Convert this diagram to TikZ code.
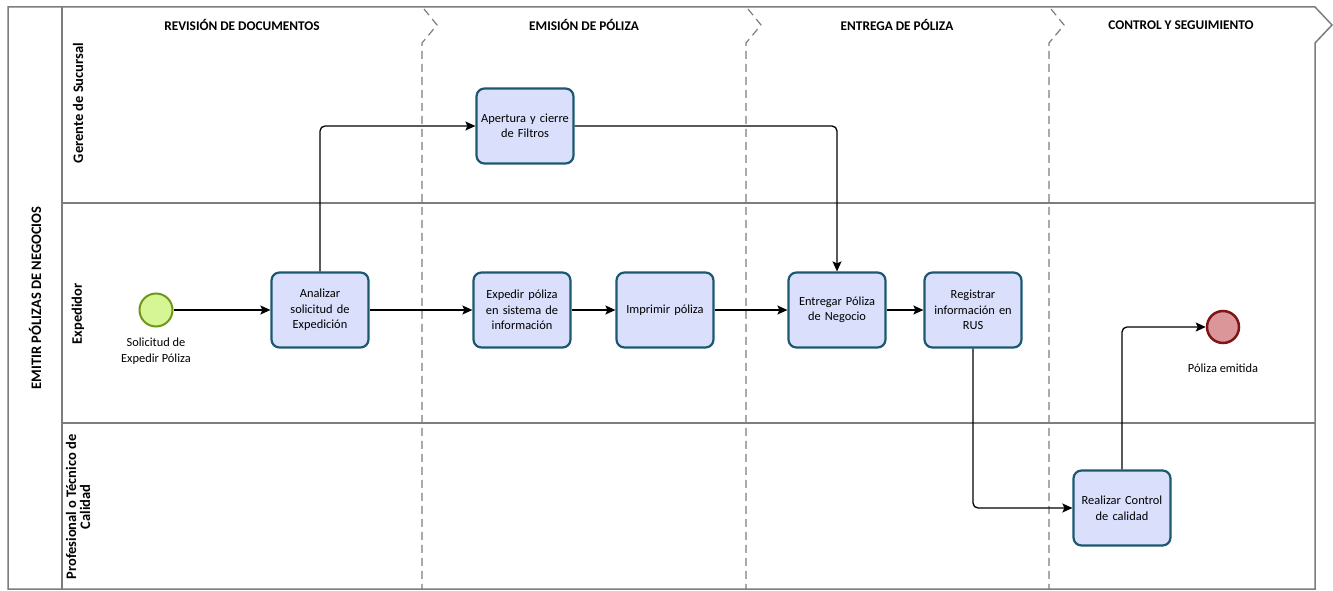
\documentclass[tikz,border=0pt]{standalone}
\usepackage{fontspec}
\setmainfont{Carlito}
\usepackage{tikz}
\usetikzlibrary{positioning,calc,arrows.meta}

\definecolor{taskfill}{RGB}{218,223,251}
\definecolor{taskline}{RGB}{28,88,112}
\definecolor{startfill}{RGB}{214,245,148}
\definecolor{startline}{RGB}{112,150,24}
\definecolor{endfill}{RGB}{219,150,154}
\definecolor{endline}{RGB}{128,20,24}
\definecolor{lanegray}{RGB}{125,125,125}

\begin{document}
\begin{tikzpicture}[x=1pt,y=-1pt,
		task/.style={rectangle, rounded corners=8pt, draw=taskline, fill=taskfill, line width=2.2pt, minimum width=97pt, minimum height=75pt, text width=90pt, align=center, inner sep=0pt, font=\fontsize{12.4}{15.5}\selectfont},
		flow/.style={-{Stealth[length=10pt,width=9pt,inset=2pt]}, line width=1.3pt, rounded corners=5pt},
		lbl/.style={align=center, font=\fontsize{12.4}{16}\selectfont},
		title/.style={font=\bfseries\fontsize{13.3}{15}\selectfont},
		lane/.style={rotate=90, align=center, font=\bfseries\fontsize{14.5}{14}\selectfont}]
		\useasboundingbox (0,0) rectangle (1333,591);
		
		% pool and lanes
		\draw[lanegray, line width=1.5pt] (8,7) -- (1315,7) -- (1332,25) -- (1315,43) -- (1315,589) -- (8,589) -- cycle;
		\draw[lanegray, line width=1.5pt] (62,7) -- (62,589);
		\draw[lanegray, line width=1.5pt] (62,203) -- (1315,203);
		\draw[lanegray, line width=1.5pt] (62,423) -- (1315,423);
		\foreach \x in {422,746,1049}
			\draw[lanegray, line width=1.2pt, dash pattern=on 8pt off 5pt] (\x+2,9) -- (\x+15,25) -- (\x,43) -- (\x,589);
		
		\node[lane] (pool) at (35,298) {EMITIR PÓLIZAS DE NEGOCIOS};
		\node[lane] (gerente) at (78,103) {Gerente de Sucursal};
		\node[lane] (expedidor) at (78,314) {Expedidor};
		\node[lane] (calidad) at (78,507) {Profesional o Técnico de\\Calidad};
		
		\node[title] (revision) at (242,25) {REVISIÓN DE DOCUMENTOS};
		\node[title] (emision) at (584,25) {EMISIÓN DE PÓLIZA};
		\node[title] (entrega) at (897,25) {ENTREGA DE PÓLIZA};
		\node[title] (seguimiento) at (1181,25) {CONTROL Y SEGUIMIENTO};
		
		% events
		\node[circle, draw=startline, fill=startfill, line width=2pt, minimum size=33pt, inner sep=0pt] (start) at (156,310) {};
		\node[lbl] (startlbl) at (156,351) {Solicitud de\\Expedir Póliza};
		\node[circle, draw=endline, fill=endfill, line width=2.5pt, minimum size=32pt, inner sep=0pt] (fin) at (1223,327) {};
		\node[lbl] (finlbl) at (1223,368) {Póliza emitida};
		
		% tasks
		\node[task] (analizar) at (320,310) {Analizar\\solicitud de\\Expedición};
		\node[task] (apertura) at (525,126) {Apertura y cierre\\de Filtros};
		\node[task] (expedir) at (522,310) {Expedir póliza\\en sistema de\\información};
		\node[task] (imprimir) at (665,310) {Imprimir póliza};
		\node[task] (entregar) at (837,310) {Entregar Póliza\\de Negocio};
		\node[task] (registrar) at (973,310) {Registrar\\información en\\RUS};
		\node[task] (control) at (1122,508) {Realizar Control\\de calidad};
		
		% flows
		\draw[flow] (start) -- (analizar);
		\draw[flow] (analizar.north) |- (apertura.west);
		\draw[flow] (apertura.east) -| (entregar.north);
		\draw[flow] (analizar) -- (expedir);
		\draw[flow] (expedir) -- (imprimir);
		\draw[flow] (imprimir) -- (entregar);
		\draw[flow] (entregar) -- (registrar);
		\draw[flow] (registrar.south) |- (control.west);
		\draw[flow] (control.north) |- (fin.west);
	\end{tikzpicture}
\end{document}
